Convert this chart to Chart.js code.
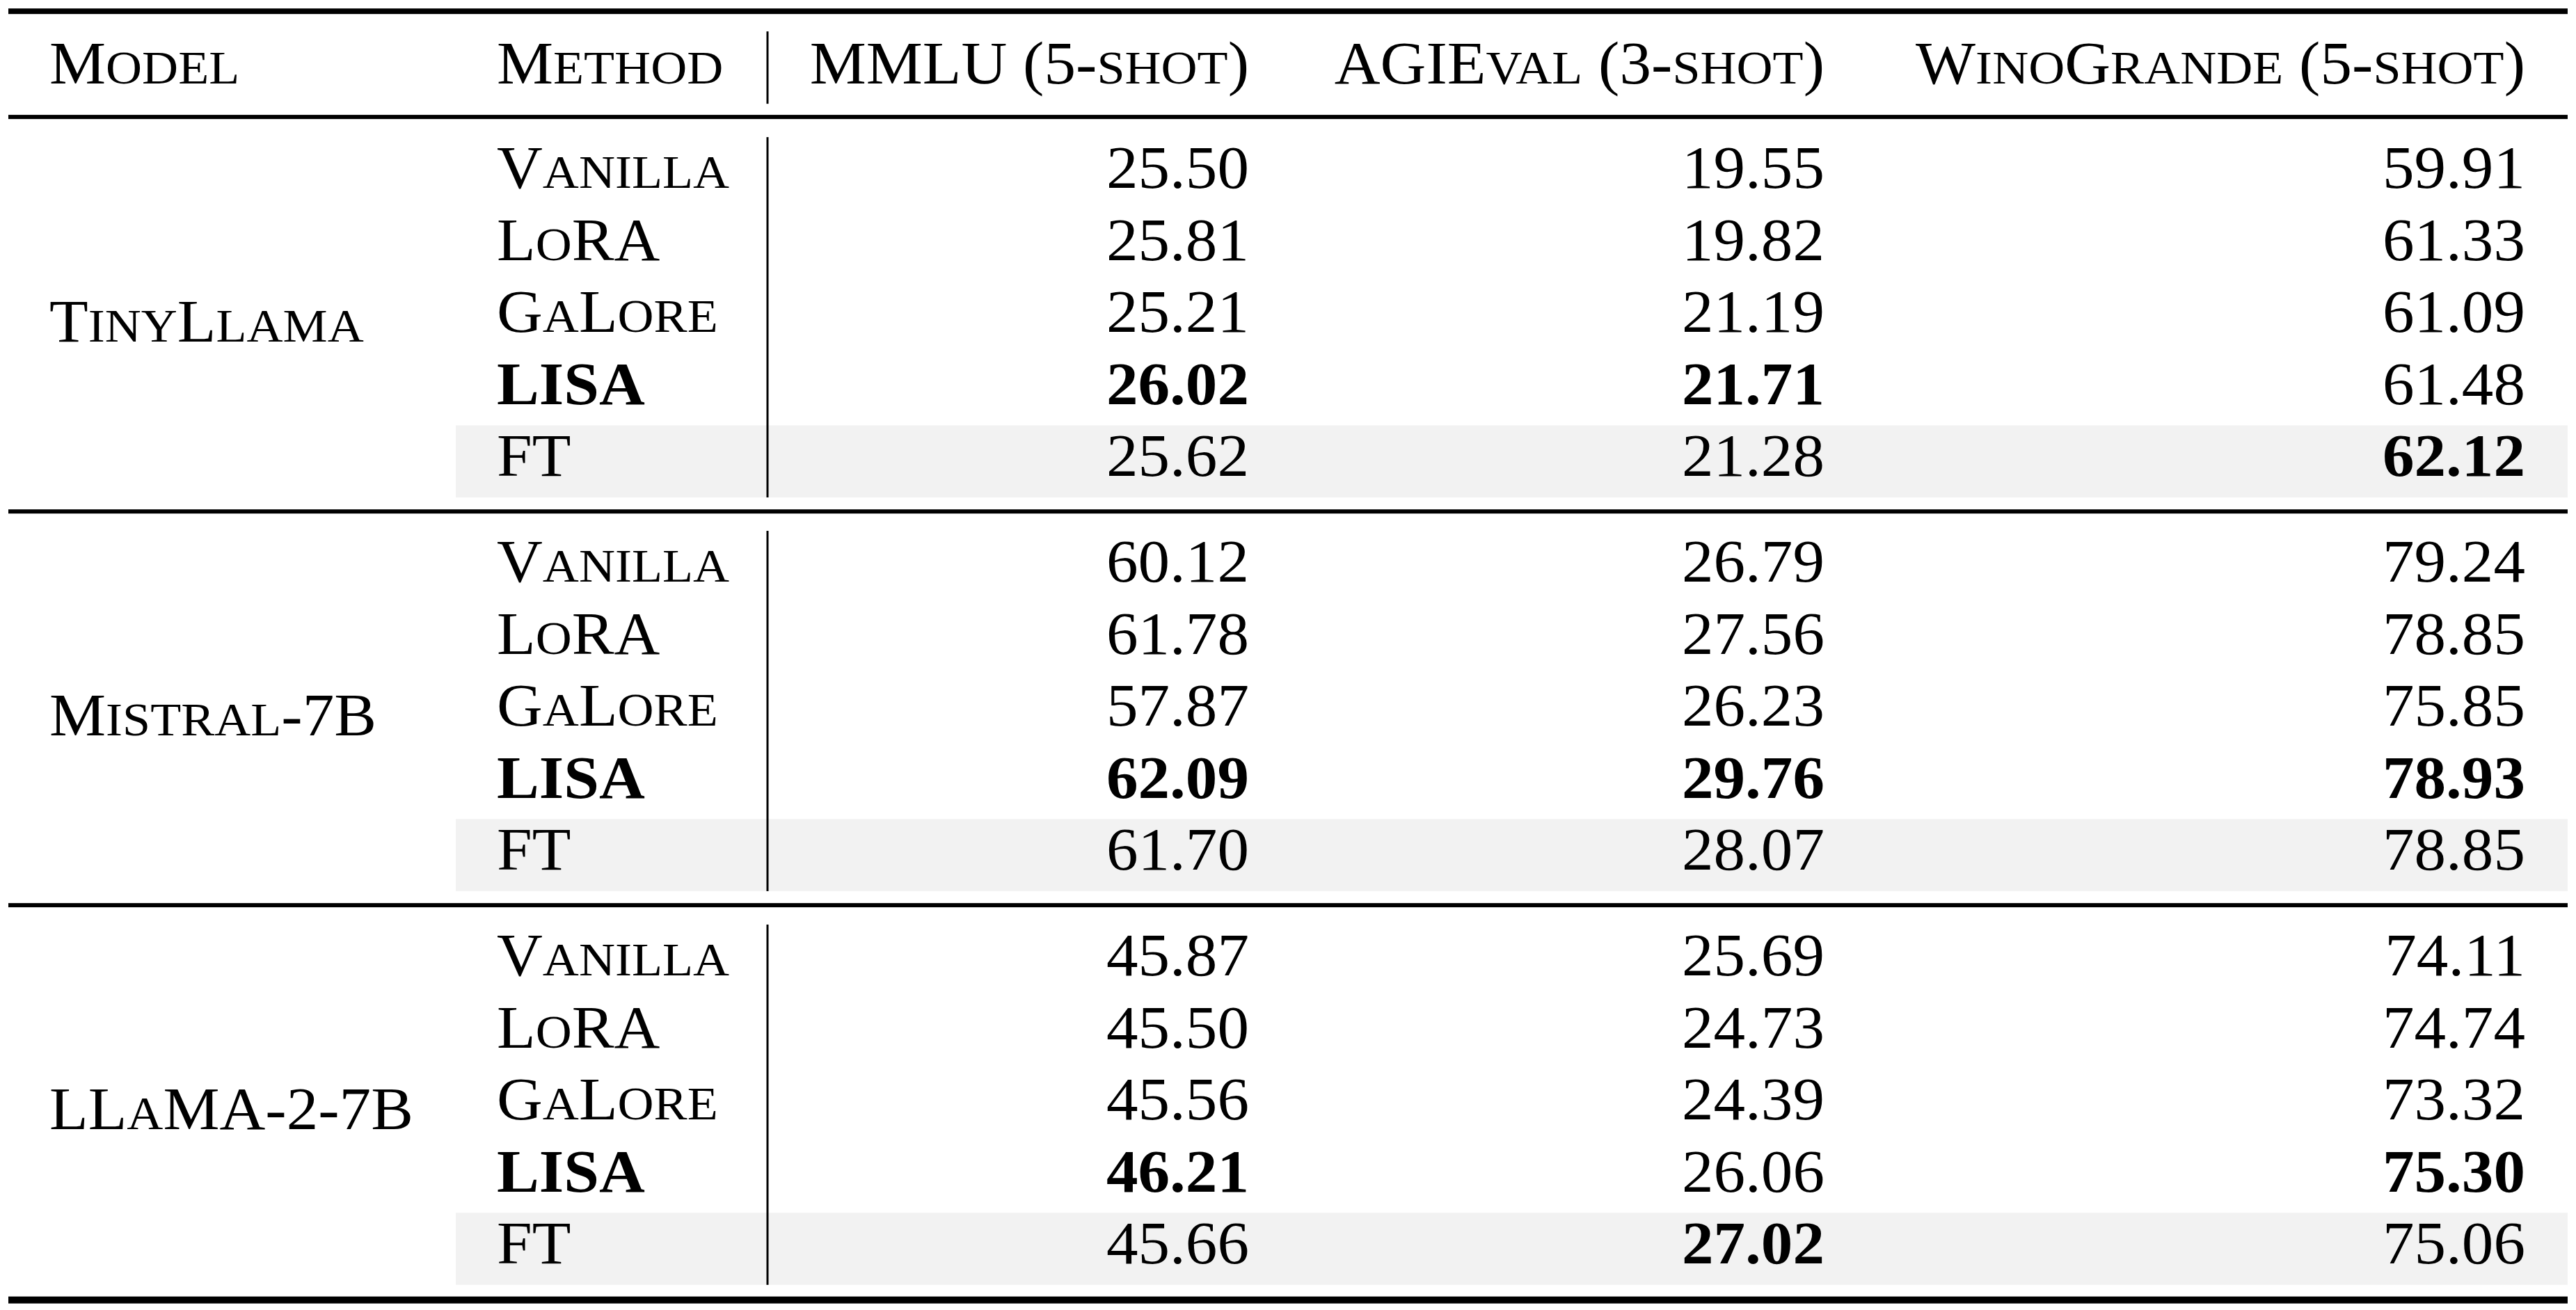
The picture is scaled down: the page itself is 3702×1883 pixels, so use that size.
<!DOCTYPE html>
<html>
<head>
<meta charset="utf-8">
<title>LISA results table</title>
<script src="https://cdn.jsdelivr.net/npm/chart.js@4.4.1/dist/chart.umd.min.js"></script>
<style>
  html, body { margin: 0; padding: 0; background: #fff; overflow: hidden; }
  canvas { display: block; }
</style>
</head>
<body>
<canvas id="table-chart" width="3702" height="1883"></canvas>
<script>
// table contents
const models = ['TinyLlama', 'Mistral-7B', 'LLaMA-2-7B'];
const methods = ['Vanilla', 'LoRA', 'GaLore', 'LISA', 'FT'];
const headers = ['Model', 'Method', 'MMLU (5-shot)', 'AGIEval (3-shot)', 'WinoGrande (5-shot)'];
const mmlu = [
    [25.50, 25.81, 25.21, 26.02, 25.62],
    [60.12, 61.78, 57.87, 62.09, 61.70],
    [45.87, 45.50, 45.56, 46.21, 45.66]
];
const agieval = [
    [19.55, 19.82, 21.19, 21.71, 21.28],
    [26.79, 27.56, 26.23, 29.76, 28.07],
    [25.69, 24.73, 24.39, 26.06, 27.02]
];
const winogrande = [
    [59.91, 61.33, 61.09, 61.48, 62.12],
    [79.24, 78.85, 75.85, 78.93, 78.85],
    [74.11, 74.74, 73.32, 75.30, 75.06]
];

// layout (x in canvas units, y in row units)
const FONT = '"Liberation Serif", "Times New Roman", serif';
const SIZE = 86, SC_SIZE = 68, STRETCH = 1.06, CAP = 0.662;
const X = { ruleL: 12, ruleR: 3690, model: 71, method: 714, vline: 1103, band: 655, values: [1795, 2622, 3629] };
const FIRST_ROW = 1.453, GROUP_STEP = 5.464;
const rowY = (g, r) => FIRST_ROW + g * GROUP_STEP + r;

function isBest(series, g, r) {
    const rest = series[g].filter((v, i) => methods[i] !== 'Vanilla');
    return methods[r] !== 'Vanilla' && series[g][r] === Math.max(...rest);
}

function cellDataset(name, build) {
    const data = [], texts = [], bold = [];
    models.forEach((m, g) => methods.forEach((me, r) => {
        const c = build(g, r);
        if (!c) return;
        data.push({ x: c.x, y: c.y });
        texts.push(c.text);
        bold.push(!!c.bold);
    }));
    return { label: name, data, texts, bold, align: 'left', pointRadius: 0, showLine: false };
}

const datasets = [];
datasets.push({
    label: 'header',
    data: headers.map((h, i) => ({ x: i === 0 ? X.model : i === 1 ? X.method : X.values[i - 2], y: 0 })),
    texts: headers, bold: headers.map(() => false),
    aligns: headers.map((h, i) => i < 2 ? 'left' : 'right'),
    pointRadius: 0, showLine: false
});
datasets.push(cellDataset('model', (g, r) => r === 2 ? { x: X.model, y: rowY(g, r) + 0.13, text: models[g] } : null));
datasets.push(cellDataset('method', (g, r) => ({ x: X.method, y: rowY(g, r), text: methods[r], bold: methods[r] === 'LISA' })));
[mmlu, agieval, winogrande].forEach((series, k) => {
    const ds = cellDataset(headers[k + 2], (g, r) => ({
        x: X.values[k], y: rowY(g, r), text: series[g][r].toFixed(2), bold: isBest(series, g, r)
    }));
    ds.align = 'right';
    datasets.push(ds);
});

function segmentsOf(str) {
    // lowercase letters become small capitals
    const segs = [];
    for (const ch of str) {
        const small = ch !== ch.toUpperCase();
        const last = segs[segs.length - 1];
        if (last && last.small === small) last.text += small ? ch.toUpperCase() : ch;
        else segs.push({ small, text: small ? ch.toUpperCase() : ch });
    }
    return segs;
}

function drawLabel(ctx, str, x, cy, align, bold) {
    const segs = segmentsOf(str);
    const weight = bold ? 'bold ' : '';
    let total = 0;
    segs.forEach(s => {
        ctx.font = weight + (s.small ? SC_SIZE : SIZE) + 'px ' + FONT;
        s.w = ctx.measureText(s.text).width;
        total += s.w;
    });
    ctx.save();
    ctx.translate(x, cy + SIZE * CAP / 2);
    ctx.scale(STRETCH, 1);
    let cx = align === 'right' ? -total : 0;
    ctx.fillStyle = '#000';
    ctx.textBaseline = 'alphabetic';
    ctx.textAlign = 'left';
    segs.forEach(s => {
        ctx.font = weight + (s.small ? SC_SIZE : SIZE) + 'px ' + FONT;
        ctx.fillText(s.text, cx, 0);
        cx += s.w;
    });
    ctx.restore();
}

const gridPlugin = {
    id: 'tableGrid',
    beforeDatasetsDraw(chart) {
        const { ctx, scales: { x, y } } = chart;
        const px = v => x.getPixelForValue(v);
        const py = v => y.getPixelForValue(v);
        ctx.save();
        // shaded FT rows
        ctx.fillStyle = '#f2f2f2';
        models.forEach((m, g) => {
            const r = methods.indexOf('FT');
            const top = py(rowY(g, r) - 0.43), bot = py(rowY(g, r) + 0.57);
            ctx.fillRect(px(X.band), top, px(X.ruleR) - px(X.band), bot - top);
        });
        // horizontal rules
        const rule = (yv, w) => {
            ctx.fillStyle = '#000';
            ctx.fillRect(px(X.ruleL), py(yv) - w / 2, px(X.ruleR) - px(X.ruleL), w);
        };
        rule(-0.724, 8);
        rule(FIRST_ROW - 0.71, 6);
        models.forEach((m, g) => {
            const last = rowY(g, methods.length - 1);
            if (g < models.length - 1) rule(last + 0.765, 6);
            else rule(last + 0.78, 10);
        });
        // vertical separator after Method
        const vline = (a, b) => ctx.fillRect(px(X.vline) - 1.5, py(a), 3, py(b) - py(a));
        vline(-0.444, 0.56);
        models.forEach((m, g) => vline(rowY(g, 0) - 0.43, rowY(g, methods.length - 1) + 0.57));
        ctx.restore();
    },
    afterDatasetsDraw(chart) {
        const { ctx } = chart;
        chart.data.datasets.forEach((ds, i) => {
            const meta = chart.getDatasetMeta(i);
            meta.data.forEach((el, j) => {
                const align = ds.aligns ? ds.aligns[j] : ds.align;
                drawLabel(ctx, ds.texts[j], el.x, el.y, align, ds.bold[j]);
            });
        });
    }
};

new Chart(document.getElementById('table-chart').getContext('2d'), {
    type: 'scatter',
    data: { datasets },
    options: {
        responsive: false,
        animation: false,
        devicePixelRatio: 1,
        events: [],
        layout: { padding: 0 },
        plugins: { legend: { display: false }, tooltip: { enabled: false } },
        scales: {
            x: { type: 'linear', display: false, min: 0, max: 3702 },
            y: { type: 'linear', display: false, min: -0.88, max: 17.30, reverse: true }
        }
    },
    plugins: [gridPlugin]
});
</script>
</body>
</html>
